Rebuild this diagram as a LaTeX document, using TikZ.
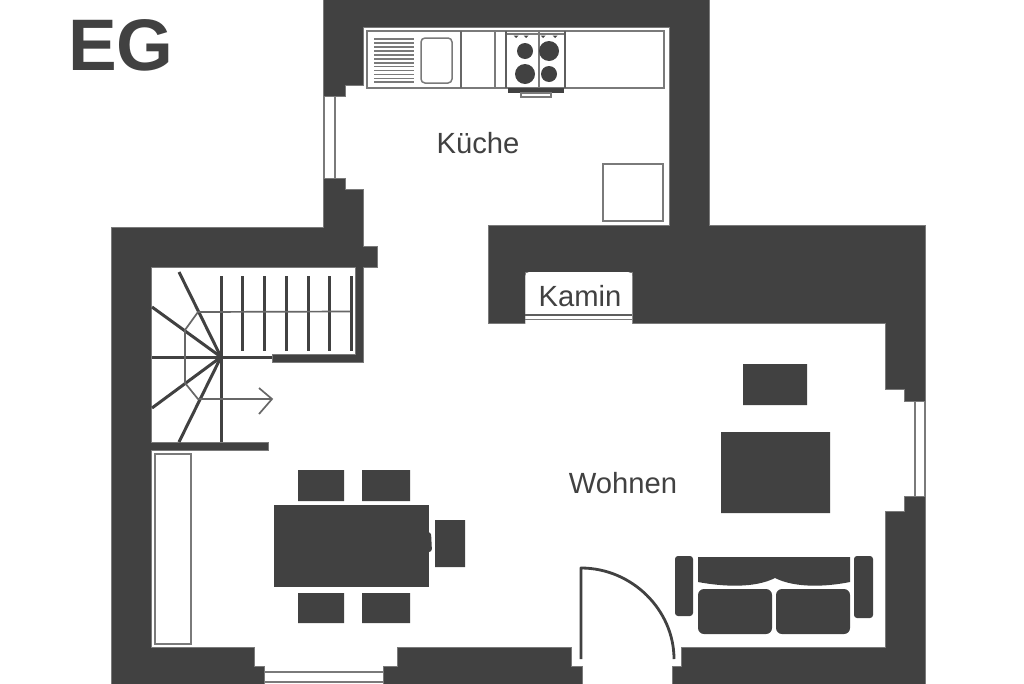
\documentclass[tikz,border=0pt]{standalone}
\usepackage{fontspec}
\setmainfont{Liberation Sans}
\definecolor{wallc}{HTML}{414141}
\definecolor{linec}{HTML}{7A7A7A}
\tikzset{
  wall/.style={fill=wallc,draw=linec,line width=0.3pt,line join=miter},
  thin gray/.style={draw=linec,line width=1.5pt},
  tread/.style={draw=wallc,line width=3pt,line cap=butt},
  walkline/.style={draw=wallc!80!white,line width=1.7pt},
  label text/.style={text=wallc,font=\fontsize{29.2}{29.2}\selectfont,inner sep=0pt,anchor=base},
}
\begin{document}
\begin{tikzpicture}[x=1pt,y=-1pt]
\useasboundingbox (0,0) rectangle (1024,683);
\fill[white] (0,0) rectangle (1024,683);
% walls
\path[wall] (323,-3)--(709,-3)--(709,225)--(925,225)--(925,401)--(904,401)--(904,389)--(885,389)--(885,323)--(632,323)--(632,272)--(525,272)--(525,323)--(488,323)--(488,225)--(669,225)--(669,27)--(363,27)--(363,85)--(345,85)--(345,96)--(323,96)--cycle;
\path[wall] (111,227)--(323,227)--(323,178)--(345,178)--(345,189)--(363,189)--(363,246)--(377,246)--(377,267)--(363,267)--(363,362)--(272,362)--(272,354)--(355,354)--(355,267)--(151,267)--(151,442)--(268,442)--(268,450)--(151,450)--(151,647)--(254,647)--(254,666)--(264,666)--(264,686)--(111,686)--cycle;
\path[wall] (397,647)--(571,647)--(571,666)--(582,666)--(582,686)--(383,686)--(383,666)--(397,666)--cycle;
\path[wall] (925,496)--(904,496)--(904,511)--(885,511)--(885,647)--(681,647)--(681,666)--(672,666)--(672,686)--(925,686)--cycle;
% kamin
\fill[white,rounded corners=4pt] (525.3,330) -- (525.3,272) -- (632,272) -- (632,330) -- cycle;
\draw[draw=linec,line width=1.3pt] (525,319.3)--(632,319.3);
\draw[draw=wallc!85!white,line width=1.3pt] (525,315)--(632,315);
\node[label text] (kamin) at (580,306) {Kamin};
% windows
\draw[thin gray] (324,96)--(324,178) (335,96)--(335,178);
\draw[thin gray] (915,401)--(915,496) (925,401)--(925,496);
\draw[thin gray] (264,672)--(383,672) (264,682)--(383,682);
% kitchen counter
\draw[thin gray] (367,31) rectangle (664,88);
\foreach \i in {0,...,11} \draw[draw=linec,line width=1.8pt] (374,39+3.94*\i)--(414,39+3.94*\i);
\draw[draw=linec,line width=1.5pt,rounded corners=4pt] (421,38) rectangle (452,83);
\draw[draw=wallc!80!white,line width=1.2pt] (461,31)--(461,88);
\draw[thin gray] (495,31)--(495,88);
% stove
\draw[thin gray] (506,34)--(565,34);
\draw[draw=wallc!85!white,line width=1.6pt] (506,31)--(506,88) (565,31)--(565,88);
\draw[thin gray] (539,31)--(539,88);
\fill[wallc] (508,88) rectangle (564,93);
\draw[thin gray] (521,93) rectangle (551,97);
\fill[wallc] (525,51) circle (8) (549,51) circle (10) (525,74) circle (10) (549,74) circle (8);
\foreach \kx in {516,526,543,555} \fill[wallc] (\kx-2.5,35.5) -- (\kx+2.5,35.5) -- (\kx,38) -- cycle;
% fridge
\draw[thin gray] (603,164) rectangle (663,221);
% stairs
\foreach \tx in {242,264,286,308,329,351} \draw[tread] (\tx,276)--(\tx,351);
\draw[tread] (221,276)--(221,442);
\draw[tread] (152,357)--(272,357);
\coordinate (stairhub) at (221,357);
\draw[tread] (stairhub)--(179,272);
\draw[tread] (stairhub)--(152,307);
\draw[tread] (stairhub)--(152,408);
\draw[tread] (stairhub)--(179,442);
\draw[walkline] (350,311.5)--(198,312)--(185,330)--(185,383)--(198,399)--(272,399);
\draw[walkline,line join=miter] (259,388)--(272,399)--(259,414);
% cabinet
\draw[thin gray] (155,454) rectangle (191,644);
% dining
\fill[wallc] (274,505) rectangle (429,587);
\fill[wallc,rounded corners=3pt] (425,532) -- (431,532) -- (432,552) -- (425,552) -- cycle;
\fill[wallc] (298,470) rectangle (344,501) (362,470) rectangle (410,501) (298,593) rectangle (344,623) (362,593) rectangle (410,623) (435,520) rectangle (465,567);
% living
\fill[wallc] (743,364) rectangle (807,405) (721,432) rectangle (830,513);
% sofa
\fill[wallc,rounded corners=3pt] (675,556) rectangle (693,616);
\fill[wallc,rounded corners=3pt] (854,556) rectangle (873,618);
\fill[wallc] (698,557)--(850,557)--(850,582) .. controls (825,587) and (795,588) .. (775,578) .. controls (755,588) and (725,587) .. (698,582)--cycle;
\fill[wallc,rounded corners=6pt] (698,589) rectangle (772,634);
\fill[wallc,rounded corners=6pt] (776,589) rectangle (850,634);
% door
\draw[draw=wallc,line width=2.8pt,line join=round] (581,659)--(581,568) .. controls (632,568) and (674,610) .. (674,659);
% labels
\node[label text] (kueche) at (478,153) {Küche};
\node[label text] (wohnen) at (623,493) {Wohnen};
\node[text=wallc,font=\bfseries\fontsize{73}{73}\selectfont,inner sep=0pt,anchor=base] (eg) at (121,70) {EG};
\end{tikzpicture}
\end{document}
